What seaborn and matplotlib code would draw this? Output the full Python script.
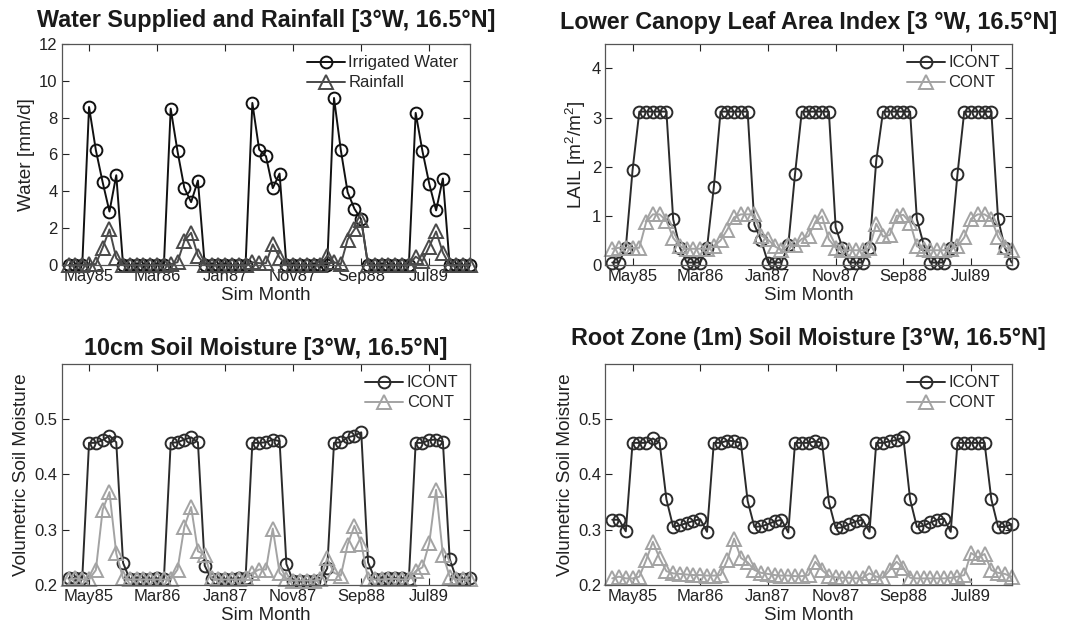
import numpy as np
import pandas as pd
import matplotlib
matplotlib.use("Agg")
import matplotlib.pyplot as plt
import seaborn as sns

# sim months 1..60 (Jan85 .. Dec89)
ay = list(range(1, 61))
tick_yerleri = [4, 14, 24, 34, 44, 54]
tick_etiketleri = ["May85", "Mar86", "Jan87", "Nov87", "Sep88", "Jul89"]

# 1. panel: sulama suyu ve yagis [mm/d]
sulama = [0, 0, 0, 8.57, 6.23, 4.49, 2.90, 4.87, 0, 0, 0, 0,
          0, 0, 0, 8.48, 6.17, 4.19, 3.41, 4.58, 0, 0, 0, 0,
          0, 0, 0, 8.79, 6.26, 5.90, 4.17, 4.96, 0, 0, 0, 0,
          0, 0, 0, 9.06, 6.23, 3.95, 3.05, 2.47, 0, 0, 0, 0,
          0, 0, 0, 8.25, 6.17, 4.40, 2.96, 4.69, 0, 0, 0, 0]
yagis = [0, 0, 0, 0.05, 0.05, 0.94, 1.93, 0.37, 0, 0, 0, 0,
         0, 0, 0, 0.05, 0.15, 1.30, 1.75, 0.50, 0, 0, 0, 0,
         0, 0, 0, 0.15, 0.10, 0.10, 1.12, 0.40, 0, 0, 0, 0,
         0, 0, 0.50, 0.15, 0.05, 1.38, 1.93, 2.42, 0, 0, 0, 0,
         0, 0, 0, 0.45, 0.22, 1.00, 1.82, 0.67, 0, 0, 0, 0]

# 2. panel: alt kanopi LAI
lai_icont = [0.05, 0.05, 0.35, 1.93, 3.12, 3.12, 3.12, 3.12, 3.12, 0.93, 0.35, 0.05,
             0.05, 0.05, 0.35, 1.58, 3.12, 3.12, 3.12, 3.12, 3.12, 0.82, 0.50, 0.05,
             0.05, 0.05, 0.40, 1.85, 3.12, 3.12, 3.12, 3.12, 3.12, 0.77, 0.35, 0.05,
             0.05, 0.05, 0.35, 2.12, 3.12, 3.12, 3.12, 3.12, 3.12, 0.93, 0.42, 0.05,
             0.05, 0.05, 0.35, 1.85, 3.12, 3.12, 3.12, 3.12, 3.12, 0.93, 0.35, 0.05]
lai_cont = [0.33, 0.35, 0.35, 0.35, 0.35, 0.87, 1.03, 1.03, 0.90, 0.55, 0.38, 0.33,
            0.33, 0.33, 0.33, 0.38, 0.50, 0.72, 0.97, 1.03, 1.03, 1.03, 0.60, 0.52,
            0.38, 0.30, 0.40, 0.40, 0.53, 0.59, 0.87, 0.99, 0.52, 0.35, 0.30, 0.30,
            0.30, 0.30, 0.35, 0.84, 0.58, 0.61, 1.00, 1.02, 0.86, 0.38, 0.33, 0.30,
            0.30, 0.30, 0.33, 0.38, 0.56, 0.94, 1.03, 1.03, 0.94, 0.57, 0.36, 0.31]

# 3. panel: 10cm toprak nemi
sm10_icont = [0.212, 0.213, 0.212, 0.457, 0.457, 0.462, 0.470, 0.458, 0.240, 0.210, 0.210, 0.211,
              0.211, 0.212, 0.211, 0.457, 0.458, 0.463, 0.467, 0.458, 0.235, 0.210, 0.210, 0.211,
              0.211, 0.212, 0.212, 0.457, 0.457, 0.458, 0.463, 0.460, 0.238, 0.207, 0.207, 0.208,
              0.208, 0.209, 0.230, 0.457, 0.458, 0.467, 0.470, 0.476, 0.241, 0.211, 0.211, 0.212,
              0.212, 0.212, 0.211, 0.457, 0.457, 0.462, 0.463, 0.459, 0.247, 0.211, 0.211, 0.212]
sm10_cont = [0.210, 0.212, 0.210, 0.210, 0.227, 0.336, 0.368, 0.257, 0.212, 0.210, 0.210, 0.210,
             0.210, 0.210, 0.210, 0.210, 0.228, 0.305, 0.341, 0.261, 0.255, 0.212, 0.210, 0.210,
             0.210, 0.210, 0.212, 0.222, 0.228, 0.228, 0.302, 0.222, 0.210, 0.208, 0.208, 0.208,
             0.208, 0.210, 0.248, 0.222, 0.217, 0.273, 0.307, 0.275, 0.211, 0.210, 0.210, 0.211,
             0.211, 0.210, 0.210, 0.225, 0.232, 0.276, 0.372, 0.255, 0.215, 0.210, 0.210, 0.210]

# 4. panel: kok bolgesi (1m) toprak nemi
kok_icont = [0.318, 0.318, 0.297, 0.457, 0.457, 0.457, 0.465, 0.457, 0.355, 0.305, 0.308, 0.312,
             0.316, 0.319, 0.296, 0.457, 0.457, 0.461, 0.460, 0.457, 0.352, 0.305, 0.306, 0.310,
             0.315, 0.318, 0.295, 0.457, 0.457, 0.457, 0.460, 0.457, 0.350, 0.303, 0.304, 0.310,
             0.315, 0.318, 0.296, 0.457, 0.457, 0.460, 0.462, 0.467, 0.355, 0.305, 0.307, 0.313,
             0.318, 0.320, 0.296, 0.457, 0.457, 0.457, 0.457, 0.457, 0.355, 0.305, 0.305, 0.310]
kok_cont = [0.212, 0.215, 0.212, 0.212, 0.215, 0.245, 0.278, 0.248, 0.225, 0.221, 0.220, 0.219,
            0.218, 0.218, 0.217, 0.217, 0.218, 0.245, 0.284, 0.249, 0.241, 0.227, 0.222, 0.220,
            0.218, 0.217, 0.217, 0.216, 0.216, 0.218, 0.242, 0.227, 0.216, 0.214, 0.213, 0.213,
            0.212, 0.213, 0.221, 0.215, 0.213, 0.227, 0.242, 0.230, 0.213, 0.212, 0.212, 0.212,
            0.212, 0.212, 0.213, 0.215, 0.218, 0.258, 0.250, 0.256, 0.227, 0.222, 0.220, 0.215]

sns.set_style("ticks")
plt.rcParams['font.family'] = ['Liberation Sans', 'DejaVu Sans']
plt.rcParams['mathtext.fontset'] = 'custom'
plt.rcParams['mathtext.rm'] = 'Liberation Sans'

koyu = "#2b2b2b"
siyah = "#111111"
orta = "#4a4a4a"
gri = "#a3a3a3"

fig = plt.figure(figsize=(10.66, 6.25), dpi=100)
konumlar = [[0.058, 0.576, 0.383, 0.354],
            [0.568, 0.576, 0.381, 0.354],
            [0.058, 0.064, 0.383, 0.354],
            [0.568, 0.064, 0.381, 0.354]]
eksenler = [fig.add_axes(k) for k in konumlar]


def ciz(ax, y, renk, isaret, etiket):
    sns.lineplot(x=ay, y=y, ax=ax, color=renk, marker=isaret, markersize=8.5 if isaret == "o" else 9.5,
                 markerfacecolor="none", markeredgecolor=renk, markeredgewidth=1.4,
                 linewidth=1.4, label=etiket, errorbar=None, clip_on=False)


paneller = [
    (eksenler[0], [(sulama, siyah, "o", "Irrigated Water"), (yagis, orta, "^", "Rainfall")],
     "Water Supplied and Rainfall [3°W, 16.5°N]", "Water [mm/d]", (0, 12), np.arange(0, 13, 2), 12),
    (eksenler[1], [(lai_icont, koyu, "o", "ICONT"), (lai_cont, gri, "^", "CONT")],
     "Lower Canopy Leaf Area Index [3 °W, 16.5°N]", r"LAIL [m$^{\mathregular{2}}$/m$^{\mathregular{2}}$]",
     (0, 4.5), np.arange(0, 5, 1), 10.5),
    (eksenler[2], [(sm10_icont, koyu, "o", "ICONT"), (sm10_cont, gri, "^", "CONT")],
     "10cm Soil Moisture [3°W, 16.5°N]", "Volumetric Soil Moisture", (0.2, 0.6), [0.2, 0.3, 0.4, 0.5], 6.5),
    (eksenler[3], [(kok_icont, koyu, "o", "ICONT"), (kok_cont, gri, "^", "CONT")],
     "Root Zone (1m) Soil Moisture [3°W, 16.5°N]", "Volumetric Soil Moisture", (0.2, 0.6), [0.2, 0.3, 0.4, 0.5], 13.5),
]

for ax, seriler, baslik, ylab, ylim, yt, bosluk in paneller:
    for y, renk, isaret, etiket in seriler:
        ciz(ax, y, renk, isaret, etiket)
    ax.set_xlim(0, 60)
    ax.set_ylim(*ylim)
    ax.set_xticks(tick_yerleri)
    ax.set_xticklabels(tick_etiketleri)
    ax.set_yticks(yt)
    if ylim[0] == 0.2:
        ax.set_yticklabels(["0.2", "0.3", "0.4", "0.5"])
    ax.tick_params(direction="in", top=True, right=True, length=5, width=0.8,
                   labelsize=12, colors="#222222", pad=3)
    for s in ax.spines.values():
        s.set_color("#555555")
        s.set_linewidth(0.9)
    ax.set_xlabel("Sim Month", fontsize=13.5, labelpad=2, color="#222222")
    ax.set_ylabel(ylab, fontsize=13.7, labelpad=3, color="#222222")
    ax.set_title(baslik, fontsize=16.8, fontweight="bold", pad=bosluk, color="#1a1a1a")
    ax.legend(loc="upper right", frameon=False, fontsize=12, handlelength=2.3,
              handletextpad=0.2, labelspacing=0.3, borderaxespad=0.3)

plt.savefig("out.png", dpi=100)
